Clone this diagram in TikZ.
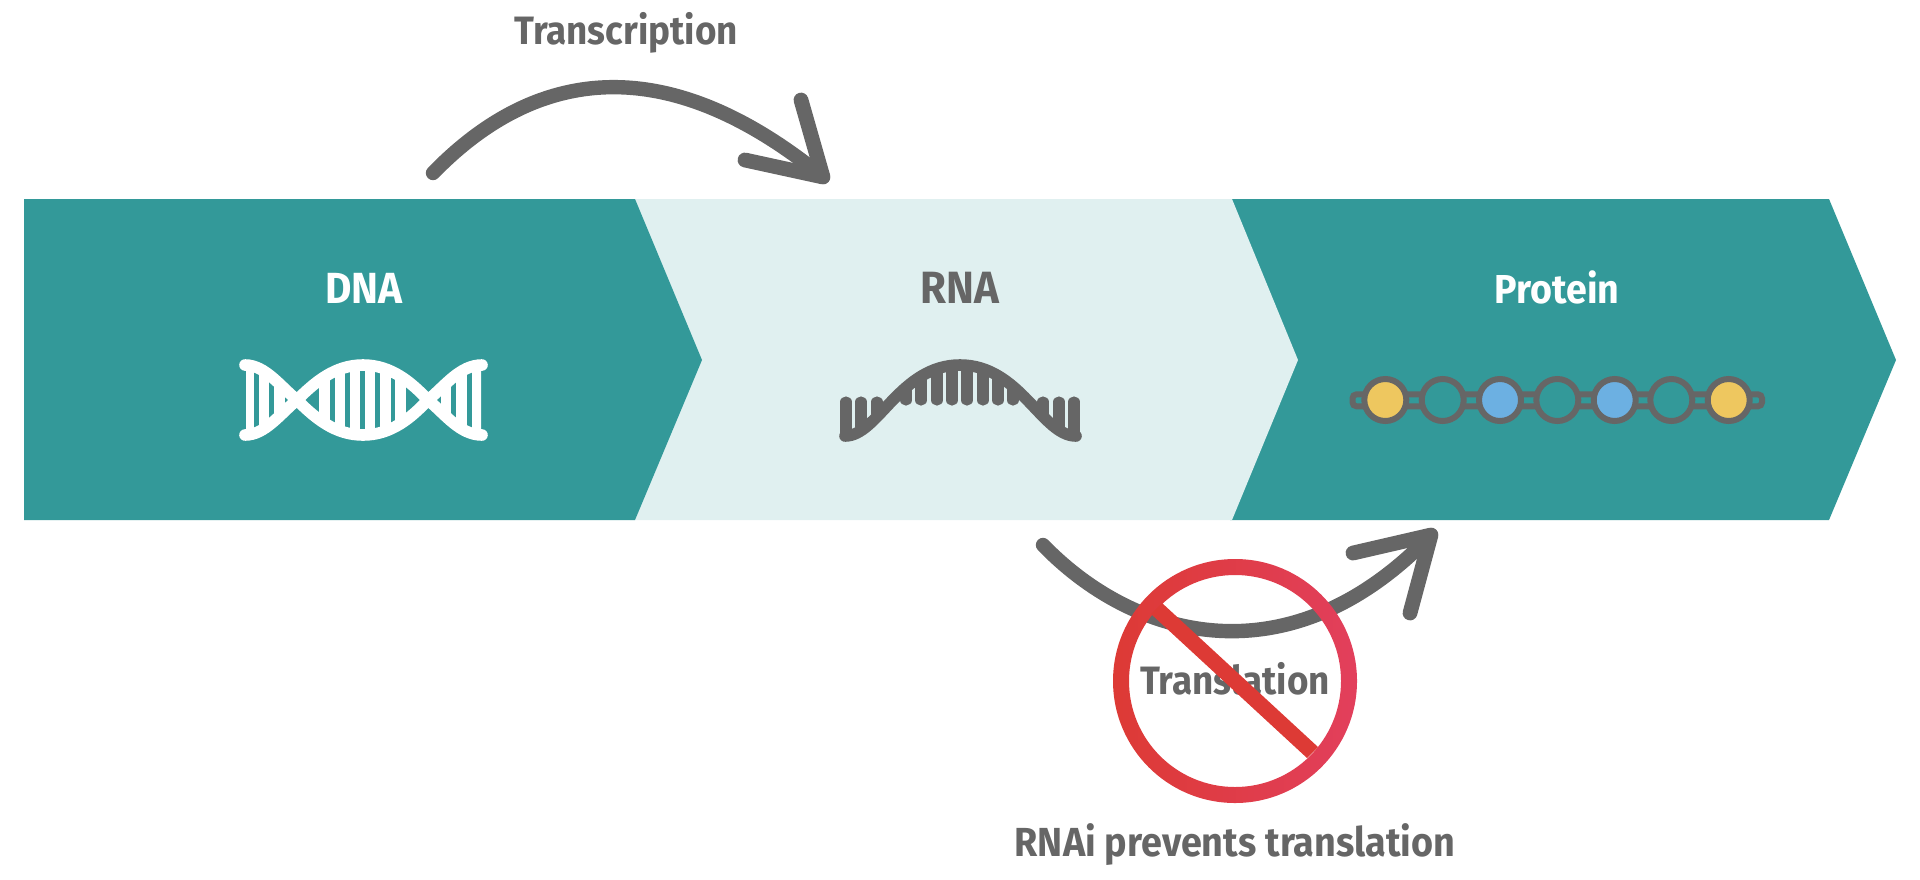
\documentclass[tikz,border=0pt]{standalone}
\usepackage{fontspec}
\setmainfont{Fira Sans}[UprightFont=*-Bold,BoldFont=*-Bold,FakeStretch=0.93]
\usetikzlibrary{shadings}
\definecolor{teal1}{HTML}{339999}
\definecolor{light1}{HTML}{E0F0F0}
\definecolor{gray1}{HTML}{666666}
\definecolor{red1}{HTML}{DD3A35}
\definecolor{red2}{HTML}{E23F5C}
\definecolor{slash1}{HTML}{C8404F}
\definecolor{yel1}{HTML}{EEC75F}
\definecolor{blu1}{HTML}{6CB0E2}
\tikzset{
  lbl/.style={anchor=base,inner sep=0pt,font=\fontsize{19.8}{22}\selectfont},
  lblg/.style={lbl,text=gray1},
  lblw/.style={lbl,text=white},
  curveline/.style={draw=gray1,line width=7.2pt,line cap=round,line join=round},
  barb/.style={draw=gray1,line width=7.4pt,line cap=round,line join=round},
  bead/.style={circle,draw=gray1,line width=3pt,minimum size=21pt,inner sep=0pt},
  dnaline/.style={draw=white,line width=5.8pt,line cap=round},
  rnaline/.style={draw=gray1,line width=5.6pt,line cap=round},
}
\begin{document}
\begin{tikzpicture}[x=0.5pt,y=-0.5pt]
\useasboundingbox (0,0) rectangle (1920,879);
% band
\fill[teal1] (1230,199) -- (1829,199) -- (1896,360) -- (1829,520) -- (1230,520) -- cycle;
\fill[light1] (630,199) -- (1232,199) -- (1298,360) -- (1232,520) -- (630,520) -- cycle;
\fill[teal1] (24,199) -- (635,199) -- (702,360) -- (635,520) -- (24,520) -- cycle;
% labels
\node[lblw,font=\fontsize{21.8}{22}\selectfont] (dna) at (364,303) {DNA};
\node[lblg,font=\fontsize{22.6}{22}\selectfont] (rna) at (960,303) {RNA};
\node[lblw,font=\fontsize{20.2}{22}\selectfont] (prot) at (1557,303) {Protein};
\node[lblg] (trs) at (626,44) {Transcription};
\node[lblg] (trl) at (1235,694) {Translation};
\node[lblg,font=\fontsize{20.3}{22}\selectfont] (rnai) at (1235,856) {RNAi prevents translation};
% DNA icon
\begin{scope}
\clip (246,365) .. controls (265,365) and (280,386) .. (297,400) .. controls (315,382) and (335,365) .. (363,365) .. controls (391,365) and (411,382) .. (428,400) .. controls (445,386) and (460,365) .. (481,365) -- (481,435) .. controls (460,435) and (445,414) .. (428,400) .. controls (411,418) and (391,435) .. (363,435) .. controls (335,435) and (315,418) .. (297,400) .. controls (280,414) and (265,435) .. (246,435) -- cycle;
\foreach \x in {249,264,279.5,324.5,340,355,370,385.5,400.5,431,446,461.5,477}{
  \draw[white,line width=5.4pt] (\x,355) -- (\x,445);
}
\end{scope}
\draw[dnaline] (245,365) .. controls (265,365) and (280,386) .. (297,400) .. controls (315,418) and (335,435) .. (363,435) .. controls (391,435) and (411,418) .. (428,400) .. controls (445,386) and (460,365) .. (482,365);
\draw[dnaline] (245,435) .. controls (265,435) and (280,414) .. (297,400) .. controls (315,382) and (335,365) .. (363,365) .. controls (391,365) and (411,382) .. (428,400) .. controls (445,414) and (460,435) .. (482,435);
% RNA icon
\foreach \x/\y in {846/432,861/426,877/413}{\draw[rnaline] (\x,402) -- (\x,\y);}
\foreach \x/\y in {1043/413,1059/426,1074/432}{\draw[rnaline] (\x,402) -- (\x,\y);}
\begin{scope}
\clip (845,436) .. controls (878,436) and (900,365) .. (960,365) .. controls (1020,365) and (1042,436) .. (1076,436) -- cycle;
\foreach \x in {906,921,937,952,967,983,998,1013}{\draw[rnaline] (\x,400) -- (\x,360);}
\end{scope}
\draw[draw=gray1,line width=5.8pt,line cap=round] (845,436) .. controls (878,436) and (900,365) .. (960,365) .. controls (1020,365) and (1042,436) .. (1076,436);
% protein
\draw[gray1,line width=3pt,rounded corners=2pt] (1352.5,394.3) rectangle (1762,406.3);
\foreach \n/\x/\c in {p1/1385.3/yel1,p2/1442.7/teal1,p3/1500/blu1,p4/1557.3/teal1,p5/1614.7/blu1,p6/1671.3/teal1,p7/1728.7/yel1}{
  \node[bead,fill=\c] (\n) at (\x,400) {};
}
% arrows
\coordinate (t0) at (433,173);
\coordinate (t1) at (823,177);
\coordinate (t2) at (801,100);
\coordinate (t3) at (745,160);
\draw[curveline] (t0) .. controls (535,68) and (665,48) .. (t1);
\draw[barb] (t2) -- (t1) -- (t3);
\coordinate (u0) at (1043,545);
\coordinate (u1) at (1431,535);
\coordinate (u2) at (1353,553);
\coordinate (u3) at (1410,613);
\draw[curveline] (u0) .. controls (1135,640) and (1290,682) .. (u1);
\draw[barb] (u2) -- (u1) -- (u3);
% prohibition sign
\coordinate (c) at (1235,681);
\shade[left color=red1,right color=red2,even odd rule] (c) circle (122) (c) circle (106);
\shade[shading=axis,left color=red1,middle color=slash1,right color=red1,shading angle=47] (1162,603) -- (1318,747) -- (1307,758) -- (1151,614) -- cycle;
\end{tikzpicture}
\end{document}
